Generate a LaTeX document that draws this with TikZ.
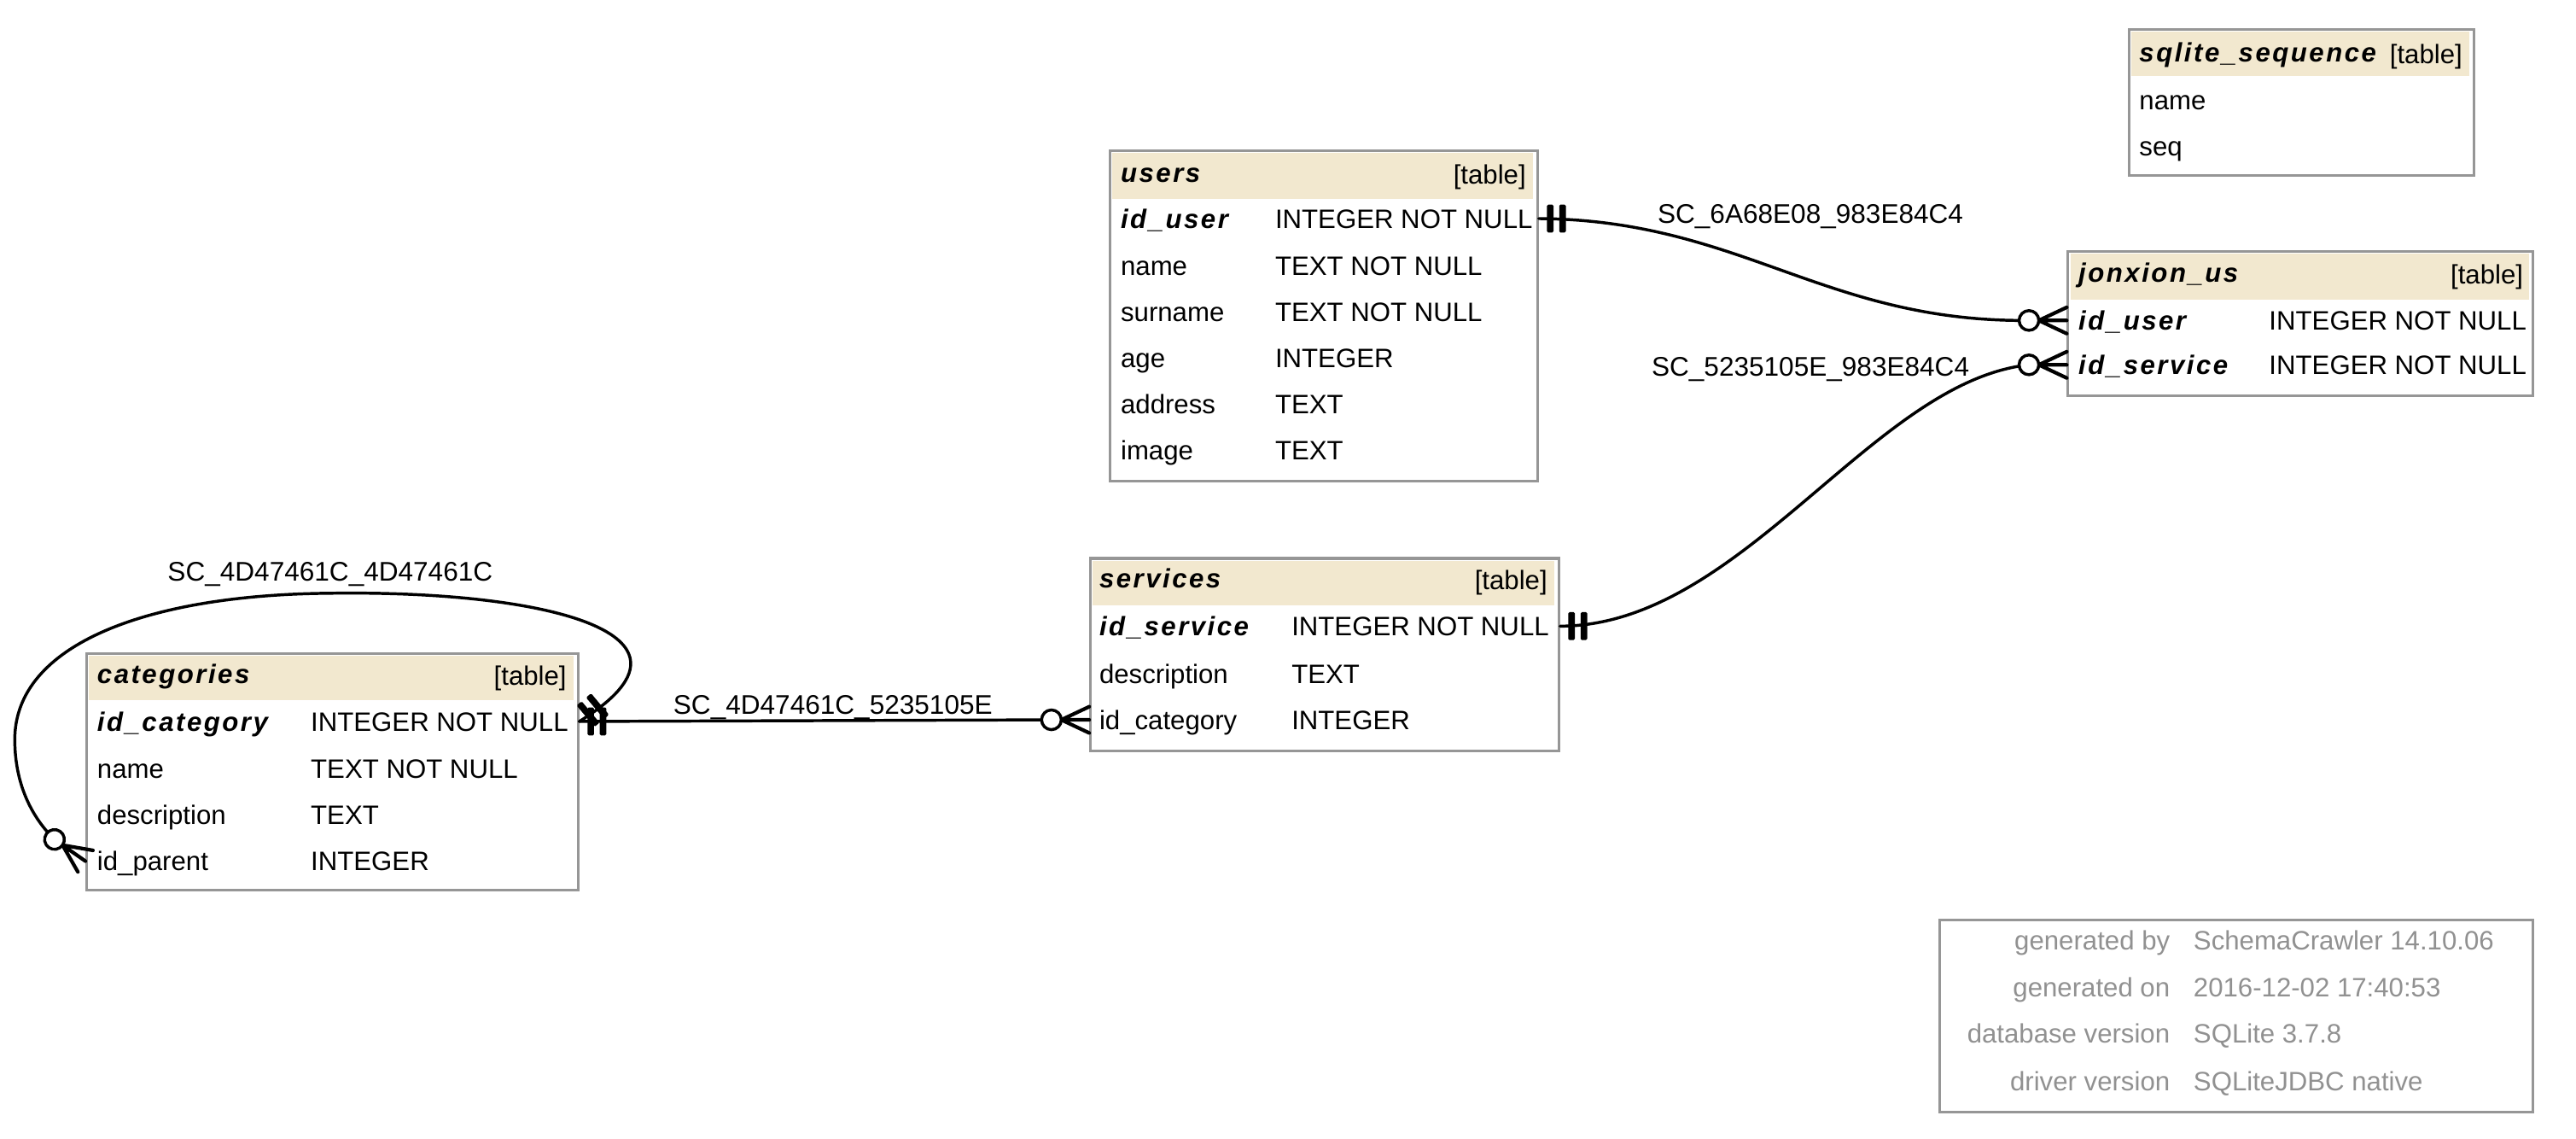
\documentclass[tikz,border=0pt]{standalone}
\usepackage{fontspec}
\setmainfont{Liberation Sans}
\newfontfamily\keyfont{Liberation Sans}[LetterSpace=8]
\usetikzlibrary{calc}
\definecolor{hdr}{RGB}{242,232,207}
\definecolor{bord}{RGB}{150,150,150}
\definecolor{foot}{RGB}{145,145,145}
\tikzset{
  tbl/.style={draw=bord, line width=1.6pt, fill=white, inner sep=0pt, anchor=north west},
  hd/.style={fill=hdr, inner sep=0pt, anchor=north west},
  fld/.style={inner sep=0pt, anchor=west, text height=11.6pt, text depth=0pt, font=\fontsize{16.2}{18}\selectfont},
  key/.style={fld, font=\fontsize{16.2}{18}\selectfont\keyfont\bfseries\itshape},
  tag/.style={fld, anchor=east},
  ftl/.style={fld, anchor=east, text=foot},
  ftv/.style={fld, text=foot},
  lbl/.style={inner sep=0pt, text height=11.6pt, text depth=0pt, font=\fontsize{16.4}{18}\selectfont},
  rel/.style={line width=1.8pt, line cap=round},
  pics/teetee/.style={code={
    \fill[rounded corners=0.8pt] (5,-8.5) rectangle ++(4,17);
    \fill[rounded corners=0.8pt] (12.5,-8.5) rectangle ++(4,17);}},
  pics/crowodot/.style={code={
    \draw[line width=2.2pt, line cap=round] (-17,0) -- (0,-8) (-17,0) -- (0,0) (-17,0) -- (0,8);
    \draw[line width=1.8pt, fill=white] (-23,0) circle (6);}}
}
\begin{document}
\begin{tikzpicture}[x=1pt,y=-1pt]
\useasboundingbox (0,0) rectangle (1568,693);

% ---------- sqlite_sequence ----------
\node[tbl, minimum width=210pt, minimum height=89pt] (sq) at (1295,17) {};
\node[hd, minimum width=206pt, minimum height=27pt] (sqh) at (1297,19) {};
\node[key] (sqt) at (1302,32) {sqlite\_sequence};
\node[tag] (sqg) at (1499,33) {[table]};
\node[fld] (sq1) at (1302,61) {name};
\node[fld] (sq2) at (1302,89) {seq};

% ---------- users ----------
\node[tbl, minimum width=260pt, minimum height=201pt] (users) at (675,91) {};
\node[hd, minimum width=256pt, minimum height=28pt] (ush) at (677,93) {};
\node[key] (ust) at (682,105) {users};
\node[tag] (usg) at (929,106) {[table]};
\node[key] (u1) at (682,133) {id\_user};   \node[fld] (u1t) at (776,133) {INTEGER NOT NULL};
\node[fld] (u2) at (682,162) {name};       \node[fld] (u2t) at (776,162) {TEXT NOT NULL};
\node[fld] (u3) at (682,190) {surname};    \node[fld] (u3t) at (776,190) {TEXT NOT NULL};
\node[fld] (u4) at (682,218) {age};        \node[fld] (u4t) at (776,218) {INTEGER};
\node[fld] (u5) at (682,246) {address};    \node[fld] (u5t) at (776,246) {TEXT};
\node[fld] (u6) at (682,274) {image};      \node[fld] (u6t) at (776,274) {TEXT};

% ---------- jonxion_us ----------
\node[tbl, minimum width=283pt, minimum height=88pt] (jon) at (1258,152) {};
\node[hd, minimum width=279pt, minimum height=28pt] (jh) at (1260,154) {};
\node[key] (jt) at (1265,166) {jonxion\_us};
\node[tag] (jg) at (1536,167) {[table]};
\node[key] (j1) at (1265,195) {id\_user};    \node[fld] (j1t) at (1381,195) {INTEGER NOT NULL};
\node[key] (j2) at (1265,222) {id\_service}; \node[fld] (j2t) at (1381,222) {INTEGER NOT NULL};

% ---------- services ----------
\node[tbl, minimum width=285pt, minimum height=117pt] (serv) at (663,339) {};
\node[hd, minimum width=281pt, minimum height=27pt] (sh) at (665,341) {};
\node[key] (st) at (669,352) {services};
\node[tag] (sg) at (942,353) {[table]};
\node[key] (s1) at (669,381) {id\_service};  \node[fld] (s1t) at (786,381) {INTEGER NOT NULL};
\node[fld] (s2) at (669,410) {description};  \node[fld] (s2t) at (786,410) {TEXT};
\node[fld] (s3) at (669,438) {id\_category};  \node[fld] (s3t) at (786,438) {INTEGER};

% ---------- categories ----------
\node[tbl, minimum width=299pt, minimum height=144pt] (cat) at (52,397) {};
\node[hd, minimum width=295pt, minimum height=27pt] (ch) at (54,399) {};
\node[key] (ct) at (59,410) {categories};
\node[tag] (cg) at (345,411) {[table]};
\node[key] (c1) at (59,439) {id\_category};  \node[fld] (c1t) at (189,439) {INTEGER NOT NULL};
\node[fld] (c2) at (59,468) {name};          \node[fld] (c2t) at (189,468) {TEXT NOT NULL};
\node[fld] (c3) at (59,496) {description};   \node[fld] (c3t) at (189,496) {TEXT};
\node[fld] (c4) at (59,524) {id\_parent};     \node[fld] (c4t) at (189,524) {INTEGER};

% ---------- footer ----------
\node[tbl, minimum width=361pt, minimum height=117pt] (foot) at (1180,559) {};
\node[ftl] (f1) at (1321,572) {generated by};     \node[ftv] (f1v) at (1335,572) {SchemaCrawler 14.10.06};
\node[ftl] (f2) at (1321,601) {generated on};     \node[ftv] (f2v) at (1335,601) {2016-12-02 17:40:53};
\node[ftl] (f3) at (1321,629) {database version}; \node[ftv] (f3v) at (1335,629) {SQLite 3.7.8};
\node[ftl] (f4) at (1321,658) {driver version};   \node[ftv] (f4v) at (1335,658) {SQLiteJDBC native};

% ---------- ports ----------
\coordinate (pu)  at (users.east |- u1);
\coordinate (pj1) at (jon.west |- j1);
\coordinate (pj2) at (jon.west |- j2);
\coordinate (ps1) at (serv.east |- s1);
\coordinate (ps3) at (serv.west |- s3);
\coordinate (pc1) at (cat.east |- c1);
\coordinate (pc4) at (cat.west |- c4);

% ---------- relationships ----------
% users.id_user -> jonxion_us.id_user
\draw[rel] (pu) .. controls (1060,134) and (1110,196) .. ($(pj1)+(-23,0)$);
\pic at (pu) {teetee};
\pic at (pj1) {crowodot};
\node[lbl] (l1) at (1102,130) {SC\_6A68E08\_983E84C4};

% services.id_service -> jonxion_us.id_service
\draw[rel] (ps1) .. controls (1060,381) and (1140,232) .. ($(pj2)+(-23,0)$);
\pic at (ps1) {teetee};
\pic at (pj2) {crowodot};
\node[lbl] (l2) at (1102,223) {SC\_5235105E\_983E84C4};

% categories.id_category -> services.id_category
\draw[rel] (pc1) -- ($(ps3)+(-23,0)$);
\pic at (pc1) {teetee};
\pic at (ps3) {crowodot};
\node[lbl] (l3) at (507,429) {SC\_4D47461C\_5235105E};

% categories.id_category -> categories.id_parent
\draw[rel] (pc1) .. controls (440,385) and (330,359) .. (200,361)
  .. controls (90,362) and (9,392) .. (9,450)
  .. controls (9,478) and (20,498) .. ($(pc4)+(-18.8,-13.2)$);
\pic[rotate=40] at (pc1) {teetee};
\pic[rotate=-35] at (pc4) {crowodot};
\node[lbl] (l4) at (201,348) {SC\_4D47461C\_4D47461C};
\end{tikzpicture}
\end{document}
